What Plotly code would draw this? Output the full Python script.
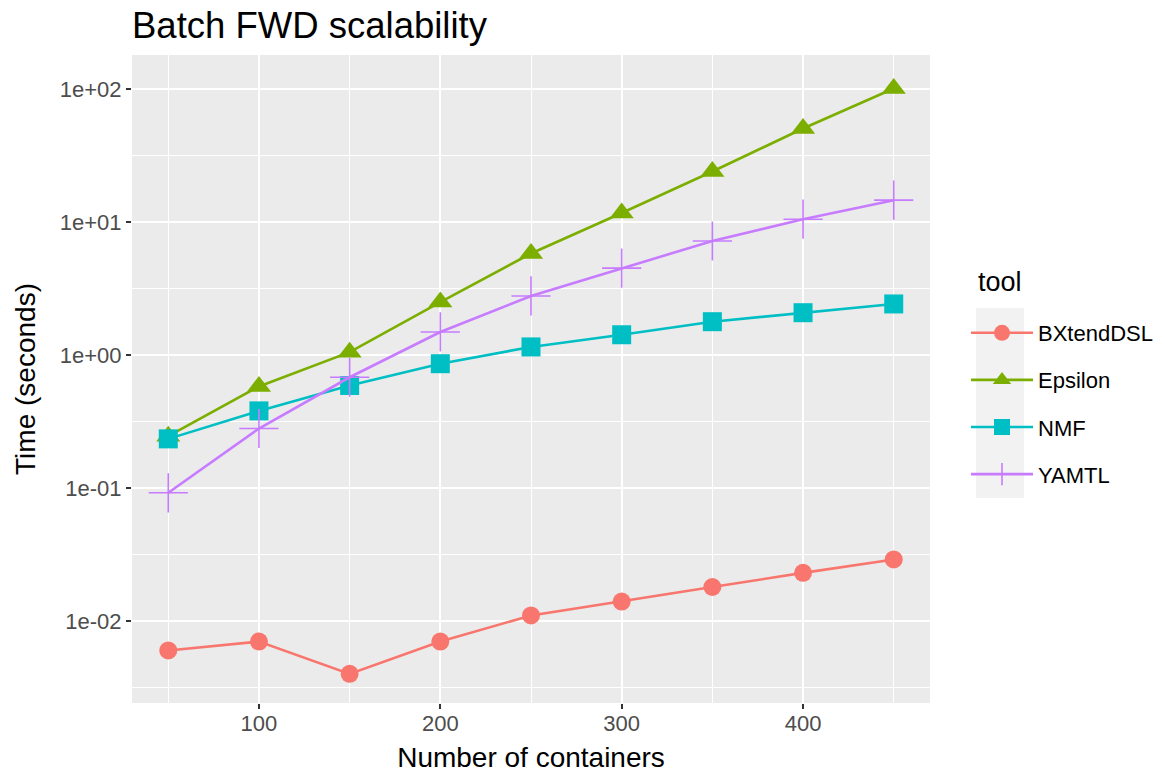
import plotly.graph_objects as go

containers = [50, 100, 150, 200, 250, 300, 350, 400, 450]
tools = ["BXtendDSL", "Epsilon", "NMF", "YAMTL"]
bxtend = [0.006, 0.007, 0.004, 0.007, 0.011, 0.014, 0.018, 0.023, 0.029]
epsilon = [0.245, 0.58, 1.05, 2.5, 5.8, 11.7, 24.0, 50.5, 101.0]
nmf = [0.234, 0.38, 0.59, 0.86, 1.15, 1.42, 1.78, 2.08, 2.42]
yamtl = [0.092, 0.28, 0.68, 1.49, 2.78, 4.5, 7.2, 10.5, 14.6]
series = [bxtend, epsilon, nmf, yamtl]

colors = ["#F8766D", "#7CAE00", "#00BFC4", "#C77CFF"]
symbols = ["circle", "triangle-up", "square", "cross-thin"]
sizes = [18, 21, 19, 28]

y_major = [0.01, 0.1, 1, 10, 100]
y_major_text = ["1e-02", "1e-01", "1e+00", "1e+01", "1e+02"]
y_minor = [10 ** -2.5, 10 ** -1.5, 10 ** -0.5, 10 ** 0.5, 10 ** 1.5]
x_major = [100, 200, 300, 400]
x_minor = [50, 150, 250, 350, 450]

FONT = "Liberation Sans, Arial, sans-serif"
W, H = 1165, 773
PW, PH, PL, PT = 798, 648, 132, 55


def px_x(x):
    return (x - PL) / PW


def px_y(y):
    return 1 - (y - PT) / PH


fig = go.Figure()
for i, (name, vals) in enumerate(zip(tools, series)):
    mk = dict(symbol=symbols[i], size=sizes[i], color=colors[i])
    if symbols[i] == "cross-thin":
        mk["line"] = dict(color=colors[i], width=1.6)
    else:
        mk["line"] = dict(width=0)
    fig.add_trace(go.Scatter(
        x=containers, y=vals, name=name, mode="lines+markers",
        line=dict(color=colors[i], width=2.6),
        marker=mk, legendgroup=name,
    ))

fig.update_layout(
    width=W, height=H,
    margin=dict(l=PL, r=W - PL - PW, t=PT, b=H - PT - PH),
    paper_bgcolor="white",
    plot_bgcolor="#EBEBEB",
    font=dict(family=FONT, color="black"),
    title=dict(text="Batch FWD scalability", x=PL / W, xanchor="left",
               y=1 - 25 / H, yanchor="middle",
               font=dict(size=36.5, color="black", family=FONT)),
    showlegend=True,
    legend=dict(
        xref="container", yref="container",
        x=966 / W, xanchor="left", y=1 - 312 / H, yanchor="top",
        font=dict(size=22, color="black"),
        bgcolor="rgba(0,0,0,0)",
        tracegroupgap=15.5,
        itemwidth=62,
    ),
)

fig.add_annotation(text="tool", xref="paper", yref="paper",
                   x=px_x(976), y=px_y(282), xanchor="left", yanchor="middle",
                   showarrow=False, font=dict(size=27, color="black", family=FONT))

fig.update_xaxes(
    range=[30, 470], automargin=False,
    tickvals=x_major, ticktext=[str(v) for v in x_major],
    showgrid=True, gridcolor="white", gridwidth=2.2,
    zeroline=False, showline=False,
    ticks="outside", ticklen=5, tickwidth=1.6, tickcolor="#333333",
    tickfont=dict(size=22, color="#4D4D4D"), ticklabelstandoff=-4,
    minor=dict(tickvals=x_minor, showgrid=True, gridcolor="white", gridwidth=1.1, ticks=""),
    title=dict(text="Number of containers", font=dict(size=28, color="black"), standoff=11),
)
fig.update_yaxes(
    type="log", range=[-2.617, 2.256], automargin=False,
    tickvals=y_major, ticktext=y_major_text,
    showgrid=True, gridcolor="white", gridwidth=2.2,
    zeroline=False, showline=False,
    ticks="outside", ticklen=5, tickwidth=1.6, tickcolor="#333333",
    tickfont=dict(size=22, color="#4D4D4D"),
    minor=dict(tickvals=y_minor, showgrid=True, gridcolor="white", gridwidth=1.1, ticks=""),
    title=dict(text="Time (seconds)", font=dict(size=28, color="black"), standoff=16),
)

# grey background behind legend keys (ggplot legend.key)
fig.add_shape(type="rect", xref="paper", yref="paper",
              x0=px_x(976), x1=px_x(1024),
              y0=px_y(498), y1=px_y(308),
              fillcolor="#F2F2F2", line=dict(width=0), layer="below")

fig.write_html("out.html", config={"displayModeBar": False},
               post_script="document.body.style.margin='0';")
